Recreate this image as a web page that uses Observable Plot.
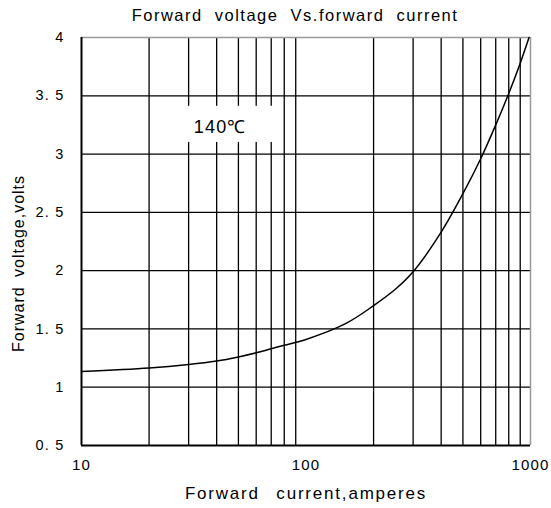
<!DOCTYPE html>
<html><head><meta charset="utf-8">
<script src="https://cdn.jsdelivr.net/npm/d3@7"></script>
<script src="https://cdn.jsdelivr.net/npm/@observablehq/plot@0.6"></script>
<style>
body{margin:0;background:#fff}
#chart svg{font-family:"Liberation Sans",Arial,sans-serif;letter-spacing:1.2px}
</style>
</head><body><div id="chart"></div>
<script>
// Forward current (A) and forward voltage (V)
const current = [10, 20, 30, 40, 50, 60, 70, 80, 100, 150, 200, 250, 300, 400, 500, 600, 700, 800, 900, 985];
const voltage = [1.135, 1.165, 1.195, 1.225, 1.26, 1.295, 1.33, 1.36, 1.41, 1.545, 1.70, 1.84, 1.99, 2.33, 2.66, 2.96, 3.25, 3.52, 3.78, 4.0];

const xTicks = [10, 100, 1000];
const xTickLabels = ["10", "100", "1000"];
const yTicks = [0.5, 1, 1.5, 2, 2.5, 3, 3.5, 4];
const yTickLabels = ["0. 5", "1", "1. 5", "2", "2. 5", "3", "3. 5", "4"];
const xGrid = [20, 30, 40, 50, 60, 70, 80, 90, 200, 300, 400, 500, 600, 700, 800, 900];
const yGrid = [1, 1.5, 2, 2.5, 3, 3.5];

const titleText = "Forward voltage Vs.forward current";
const xLabel = "Forward current,amperes";
const yLabel = "Forward voltage,volts";
const annotation = "140℃";

const data = current.map((c, i) => ({current: c, voltage: voltage[i]}));

const chart = Plot.plot({
  width: 551,
  height: 508,
  marginLeft: 81,
  marginRight: 21,
  marginTop: 37,
  marginBottom: 63,
  style: {background: "#fff", color: "#000", fontSize: "14.5px", fontFamily: "'Liberation Sans', Arial, sans-serif"},
  x: {type: "log", domain: [10, 1000]},
  y: {domain: [0.5, 4]},
  marks: [
    Plot.ruleX(xGrid, {stroke: "#000", strokeWidth: 1.3}),
    Plot.ruleY(yGrid, {stroke: "#000", strokeWidth: 1.3}),
    Plot.rect([annotation], {x1: 27, x2: 76, y1: 3.1, y2: 3.41, fill: "white"}),
    Plot.text([annotation], {x: 41.5, y: 3.23, text: d => d, fontSize: 18, fill: "#000"}),
    Plot.ruleY([4], {stroke: "#999", strokeWidth: 1.5}),
    Plot.ruleX([1000], {stroke: "#999", strokeWidth: 1.5}),
    Plot.line(data, {x: "current", y: "voltage", curve: "catmull-rom", stroke: "#000", strokeWidth: 1.5}),
    Plot.ruleX([10], {stroke: "#000", strokeWidth: 2}),
    Plot.ruleY([0.5], {stroke: "#000", strokeWidth: 2}),
    Plot.axisX(xTicks, {tickSize: 0, tickPadding: 14, tickFormat: d => xTickLabels[xTicks.indexOf(d)], label: null, fontSize: 15}),
    Plot.axisY(yTicks, {tickSize: 0, tickPadding: 17, tickFormat: d => yTickLabels[yTicks.indexOf(d)], label: null, fontSize: 14.5}),
    Plot.text([xLabel], {frameAnchor: "bottom", dy: 53, text: d => d, fontSize: 17}),
    Plot.text([yLabel], {frameAnchor: "left", textAnchor: "middle", dx: -63, dy: 22, rotate: -90, text: d => d, fontSize: 16}),
    Plot.text([titleText], {frameAnchor: "top", dx: -11, dy: -28, text: d => d, fontSize: 16.5})
  ]
});
d3.select(chart).selectAll("text").each(function() {
  const t = this.textContent;
  if (t === titleText) d3.select(this).style("letter-spacing", "1.5px").style("word-spacing", "6px");
  else if (t === xLabel) d3.select(this).style("letter-spacing", "1.8px").style("word-spacing", "10px");
  else if (t === yLabel) d3.select(this).style("letter-spacing", "1px").style("word-spacing", "4px");
});
document.getElementById("chart").appendChild(chart);
</script>
</body></html>
